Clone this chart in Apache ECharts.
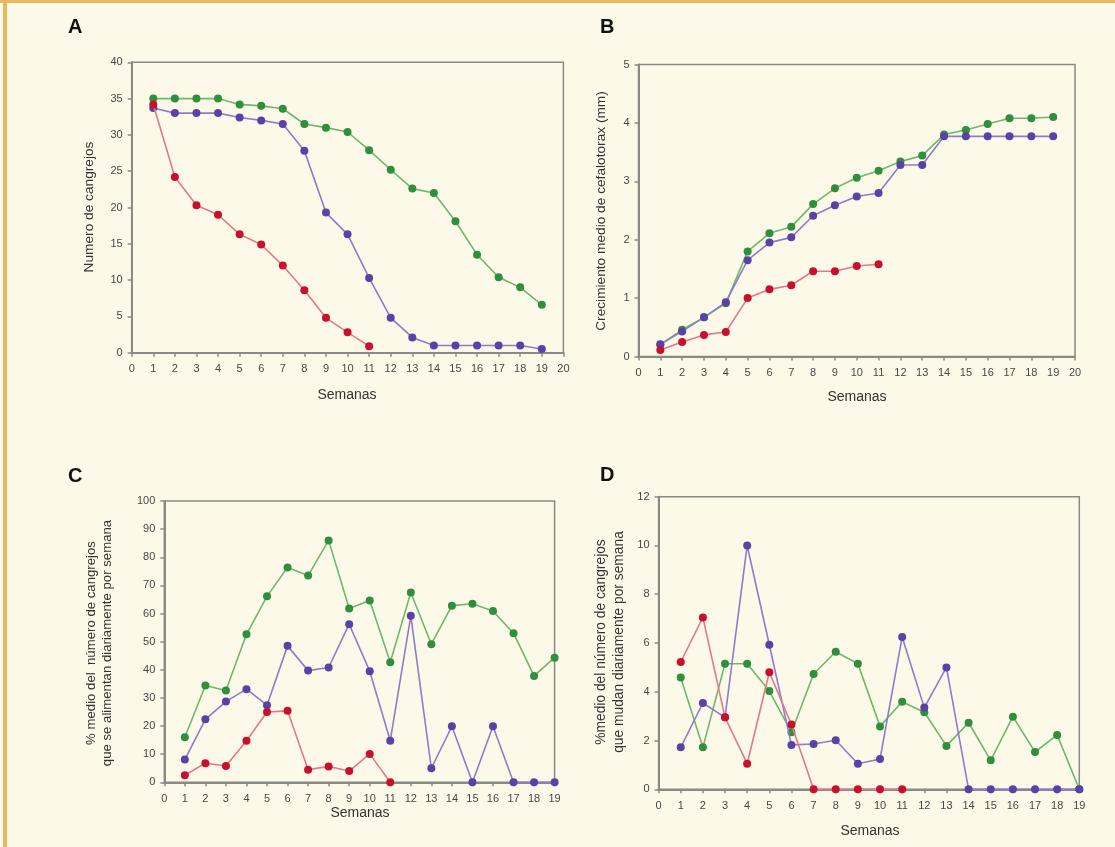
<!DOCTYPE html>
<html>
<head>
<meta charset="utf-8">
<script src="https://cdn.jsdelivr.net/npm/echarts@6/dist/echarts.min.js"></script>
<style>
html,body{margin:0;padding:0;background:#fdf9e9;}
#c{width:1115px;height:847px;}
</style>
</head>
<body>
<div id="c"></div>
<script>
// ---- data ----
const weeks = [1,2,3,4,5,6,7,8,9,10,11,12,13,14,15,16,17,18,19];

const A_green = [35,35,35,35,34.2,34.0,33.6,31.5,31.0,30.4,27.9,25.2,22.6,22.0,18.1,13.5,10.4,9.0,6.6];
const A_blue  = [33.7,33.0,33.0,33.0,32.4,32.0,31.5,27.8,19.3,16.3,10.3,4.8,2.1,1.0,1.0,1.0,1.0,1.0,0.5];
const A_red   = [34.2,24.2,20.3,19.0,16.3,14.9,12.0,8.6,4.8,2.8,0.9];

const B_green = [0.20,0.46,0.67,0.91,1.80,2.11,2.22,2.61,2.88,3.06,3.18,3.34,3.44,3.80,3.88,3.98,4.08,4.08,4.10];
const B_blue  = [0.21,0.43,0.67,0.93,1.65,1.95,2.04,2.41,2.59,2.74,2.80,3.28,3.28,3.77,3.77,3.77,3.77,3.77,3.77];
const B_red   = [0.11,0.25,0.37,0.42,1.00,1.15,1.22,1.46,1.46,1.55,1.58];

const C_green = [16.0,34.4,32.6,52.6,66.1,76.4,73.5,86.0,61.8,64.6,42.7,67.5,49.1,62.8,63.5,60.9,53.0,37.8,44.3];
const C_blue  = [8.1,22.4,28.7,33.1,27.4,48.5,39.7,40.8,56.2,39.5,14.8,59.2,5.0,19.9,0,19.9,0,0,0];
const C_red   = [2.5,6.8,5.8,14.8,25.0,25.4,4.5,5.6,4.0,10.1,0];

const D_green = [4.58,1.72,5.15,5.15,4.03,2.34,4.73,5.64,5.15,2.58,3.59,3.16,1.78,2.73,1.19,2.98,1.53,2.23,0];
const D_blue  = [1.72,3.54,2.95,10.0,5.93,1.82,1.86,2.01,1.05,1.24,6.25,3.35,5.0,0,0,0,0,0,0];
const D_red   = [5.22,7.05,2.95,1.05,4.80,2.66,0,0,0,0,0];

const panelLetters = ['A','B','C','D'];
const xName = 'Semanas';
const yNames = [
  'Numero de cangrejos',
  'Crecimiento medio de cefalotorax (mm)',
  '% medio del  número de cangrejos\nque se alimentan diariamente por semana',
  '%medio del número de cangrejos\nque mudan diariamente por semana'
];

// ---- styles ----
const AX = '#8a8a84';
const LBL = '#474747';
const FONT = 'Liberation Sans, Arial, sans-serif';
const colors = {
  green: {m:'#2f8f3c', l:'#6cb86c'},
  blue:  {m:'#5a42a4', l:'#8c7ccc'},
  red:   {m:'#c8102e', l:'#e07a88'}
};

const grids = [
  {left:131.7, top:62.3, width:431.7, height:290.4},
  {left:638.5, top:64.5, width:436.5, height:292},
  {left:164.3, top:501,  width:390.3, height:281.3},
  {left:658.6, top:496.7,width:420.7, height:292.6}
];
const xMax = [20,20,19,19];
const yMax = [40,5,100,12];
const yInt = [5,1,10,2];

function pairs(arr){ return arr.map((v,i)=>[weeks[i], v]); }

const xAxes = grids.map((g,i)=>({
  gridIndex:i, type:'value', min:0, max:xMax[i], interval:1,
  axisLine:{show:true, onZero:false, lineStyle:{color:AX, width:2}},
  axisTick:{show:true, length:4, lineStyle:{color:AX, width:1.5}},
  axisLabel:{color:LBL, fontSize:11, fontFamily:FONT, margin:11},
  splitLine:{show:false}
}));
const yAxes = grids.map((g,i)=>({
  gridIndex:i, type:'value', min:0, max:yMax[i], interval:yInt[i],
  axisLine:{show:true, lineStyle:{color:AX, width:2}},
  axisTick:{show:true, length:4, lineStyle:{color:AX, width:1.5}},
  axisLabel:{color:LBL, fontSize:11, fontFamily:FONT, margin:9},
  splitLine:{show:false}
}));

const sets = [
  [A_green, A_blue, A_red],
  [B_green, B_blue, B_red],
  [C_green, C_blue, C_red],
  [D_green, D_blue, D_red]
];
const keys = ['green','blue','red'];
const series = [];
sets.forEach((s,i)=>{
  s.forEach((arr,k)=>{
    const c = colors[keys[k]];
    series.push({
      type:'line', xAxisIndex:i, yAxisIndex:i, data:pairs(arr),
      symbol:'circle', symbolSize:8, z: 2+k,
      lineStyle:{color:c.l, width:1.6},
      itemStyle:{color:c.m, borderColor:c.m, borderWidth:0},
      animation:false, silent:true
    });
  });
});

const letterPos = [[68,17],[600,17],[68,466],[600,465]];
const xNamePos = [[347,395],[857,397],[360,813],[870,831]];
const yNamePos = [[89,207],[601,211],[99,643],[610,642]];
const yNameLH = [16,16,16,18];
const yNameSize = [13.7,13.7,13.2,13.8];

const graphic = [
  {type:'rect', shape:{x:0,y:0,width:1115,height:3}, style:{fill:'#e8b85e'}, z:100},
  {type:'rect', shape:{x:3,y:0,width:4,height:847}, style:{fill:'#e8b85e'}, z:100}
];
panelLetters.forEach((t,i)=>{
  graphic.push({type:'text', left:letterPos[i][0], top:letterPos[i][1],
    style:{text:t, fill:'#111', font:'bold 20px '+FONT}});
  graphic.push({type:'text', x:xNamePos[i][0], y:xNamePos[i][1],
    style:{text:xName, fill:'#333', font:'14px '+FONT, textAlign:'center', textVerticalAlign:'middle'}});
  graphic.push({type:'text', x:yNamePos[i][0], y:yNamePos[i][1], rotation:Math.PI/2,
    style:{text:yNames[i], fill:'#333', font:yNameSize[i]+'px '+FONT, textAlign:'center', textVerticalAlign:'middle', lineHeight:yNameLH[i]}});
});

const chart = echarts.init(document.getElementById('c'), null, {renderer:'canvas'});
chart.setOption({
  backgroundColor:'#fdf9e9',
  animation:false,
  grid: grids.map(g=>Object.assign({show:true, borderColor:AX, borderWidth:1.5, backgroundColor:'transparent', containLabel:false}, g)),
  xAxis:xAxes, yAxis:yAxes, series:series, graphic:graphic
});
</script>
</body>
</html>
